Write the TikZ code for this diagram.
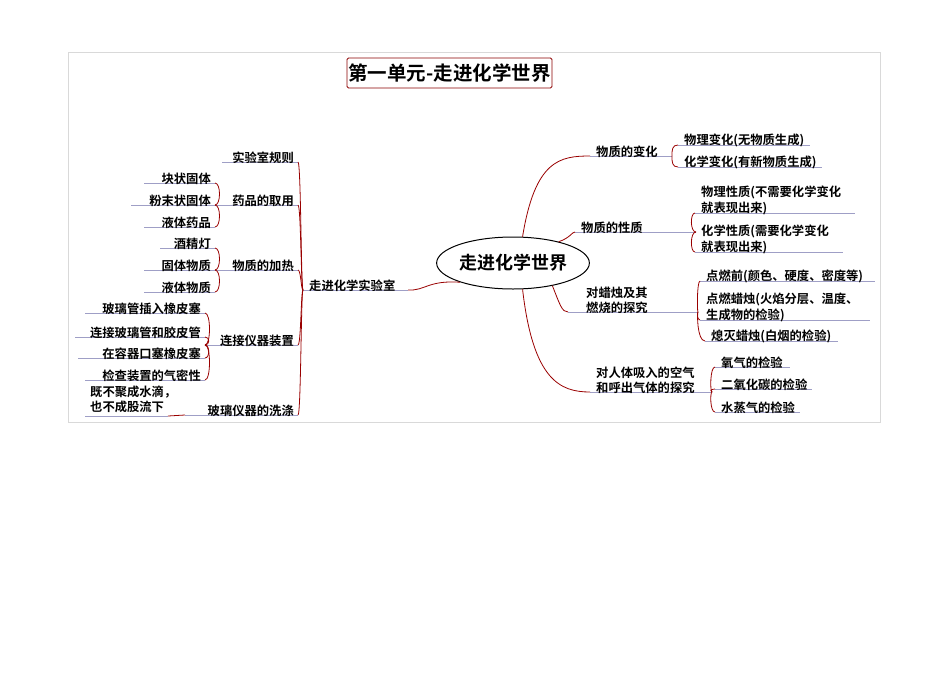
\documentclass[tikz,border=0pt]{standalone}
\usepackage{fontspec}
\setmainfont{Noto Sans CJK SC Bold}
\usetikzlibrary{shapes.geometric}
\begin{document}
\begin{tikzpicture}[x=1pt,y=-1pt,
  txt/.style={inner sep=0pt,font=\fontsize{12.3}{15.5}\selectfont,align=left},
  uline/.style={draw=blue!25!gray!60,line width=0.8pt},
  rline/.style={draw=red!60!black,line width=0.8pt}]
\useasboundingbox (0,0) rectangle (950,672);
\draw[gray!30,line width=0.8pt] (68,52) rectangle (880,422);
\node[draw=red!55!black,line width=0.8pt,rounded corners=1.5pt,minimum width=205pt,minimum height=30pt,inner sep=0pt,font=\fontsize{19.5}{22}\selectfont] (title) at (449.5,73) {第一单元-走进化学世界};
\node[draw=black,line width=1pt,ellipse,minimum width=152pt,minimum height=52pt,inner sep=0pt,font=\fontsize{18}{20}\selectfont] (root) at (513,263) {走进化学世界};
% helpers
\newcommand\leafL[6][south east]{\coordinate (#2a) at (#3,#5); \coordinate (#2b) at (#4,#5); \draw[uline] (#2a)--(#2b); \node[txt,anchor=#1] (#2) at ([xshift=-4pt,yshift=-2pt]#2b) {#6};}
\newcommand\leafR[5]{\coordinate (#1a) at (#2,#4); \coordinate (#1b) at (#3,#4); \draw[uline] (#1a)--(#1b); \node[txt,anchor=south west] (#1) at ([xshift=6pt,yshift=-2pt]#1a) {#5};}
% ---------- left ----------
\leafR{lab}{303}{408}{290}{走进化学实验室}
\draw[rline] (labb) .. controls (425,291) and (428,280) .. (root.200);
\leafL{rule}{222}{298}{162}{实验室规则}
\leafL{yp}{215}{298}{205}{药品的取用}
\leafL{jr}{215}{298}{270}{物质的加热}
\leafL{lj}{205}{298}{345}{连接仪器装置}
\leafL{xd}{185}{298}{415}{玻璃仪器的洗涤}
\foreach \n/\y in {rule/162,yp/205,jr/270,lj/345,xd/415}{
  \draw[rline] (laba) .. controls (301,290) and (301,\y) .. (\n b);
}
\leafL{c1}{144}{215}{183}{块状固体}
\leafL{c2}{131}{215}{205}{粉末状固体}
\leafL{c3}{144}{215}{227}{液体药品}
\draw[rline] (c1b) .. controls (221,183) and (221,205) .. (ypa);
\draw[rline] (c3b) .. controls (221,227) and (221,205) .. (ypa);
\leafL{h1}{160}{215}{248}{酒精灯}
\leafL{h2}{144}{215}{270}{固体物质}
\leafL{h3}{144}{215}{292}{液体物质}
\draw[rline] (h1b) .. controls (221,248) and (221,270) .. (jra);
\draw[rline] (h3b) .. controls (221,292) and (221,270) .. (jra);
\leafL{l1}{85}{205}{313}{玻璃管插入橡皮塞}
\leafL{l2}{75}{205}{337}{连接玻璃管和胶皮管}
\leafL{l3}{78}{205}{358}{在容器口塞橡皮塞}
\leafL{l4}{85}{205}{380}{检查装置的气密性}
\draw[rline] (l1b) .. controls (211,313) and (211,345) .. (lja);
\draw[rline] (l2b) .. controls (210,337) and (210,345) .. (lja);
\draw[rline] (l3b) .. controls (210,358) and (210,345) .. (lja);
\draw[rline] (l4b) .. controls (211,380) and (211,345) .. (lja);
\coordinate (w1a) at (85,416); \coordinate (w1b) at (168,416);
\draw[uline] (w1a)--(w1b);
\node[txt,anchor=south west] (w1) at (90,413) {既不聚成水滴，\\也不成股流下};
\draw[rline] (w1b) -- (xda);
% ---------- right ----------
\leafR{bh}{590}{672}{156}{物质的变化}
\leafR{xz}{575}{696}{232}{物质的性质}
\leafR{lz}{568}{698}{312}{\hspace*{12pt}对蜡烛及其\\\hspace*{12pt}燃烧的探究}
\leafR{rt}{590}{712}{392}{对人体吸入的空气\\和呼出气体的探究}
\draw[rline] (root.70) .. controls (535,160) and (560,156) .. (bha);
\draw[rline] (root.25) .. controls (570,238) and (572,232) .. (xza);
\draw[rline] (root.-30) .. controls (560,305) and (562,312) .. (lza);
\draw[rline] (root.-70) .. controls (533,380) and (560,392) .. (rta);
\leafR{b1}{678}{810}{145}{物理变化(无物质生成)}
\leafR{b2}{678}{822}{167}{化学变化(有新物质生成)}
\draw[rline] (bhb) .. controls (672,150) and (672,145) .. (b1a);
\draw[rline] (bhb) .. controls (672,162) and (672,167) .. (b2a);
\leafR{x1}{695}{855}{213}{物理性质(不需要化学变化\\就表现出来)}
\leafR{x2}{695}{843}{252}{化学性质(需要化学变化\\就表现出来)}
\draw[rline] (xzb) .. controls (690,232) and (690,213) .. (x1a);
\draw[rline] (xzb) .. controls (690,232) and (690,252) .. (x2a);
\leafR{z1}{700}{875}{281}{点燃前(颜色、硬度、密度等)}
\leafR{z2}{700}{870}{320}{点燃蜡烛(火焰分层、温度、\\生成物的检验)}
\leafR{z3}{705}{838}{341}{熄灭蜡烛(白烟的检验)}
\draw[rline] (lzb) .. controls (697,312) and (697,281) .. (z1a);
\draw[rline] (lzb) .. controls (697,312) and (697,320) .. (z2a);
\draw[rline] (lzb) .. controls (697,312) and (697,341) .. (z3a);
\leafR{r1}{715}{790}{367}{氧气的检验}
\leafR{r2}{715}{812}{389}{二氧化碳的检验}
\leafR{r3}{715}{800}{412}{水蒸气的检验}
\draw[rline] (rtb) .. controls (710,392) and (710,367) .. (r1a);
\draw[rline] (rtb) .. controls (710,392) and (710,389) .. (r2a);
\draw[rline] (rtb) .. controls (710,392) and (710,412) .. (r3a);
\end{tikzpicture}
\end{document}
